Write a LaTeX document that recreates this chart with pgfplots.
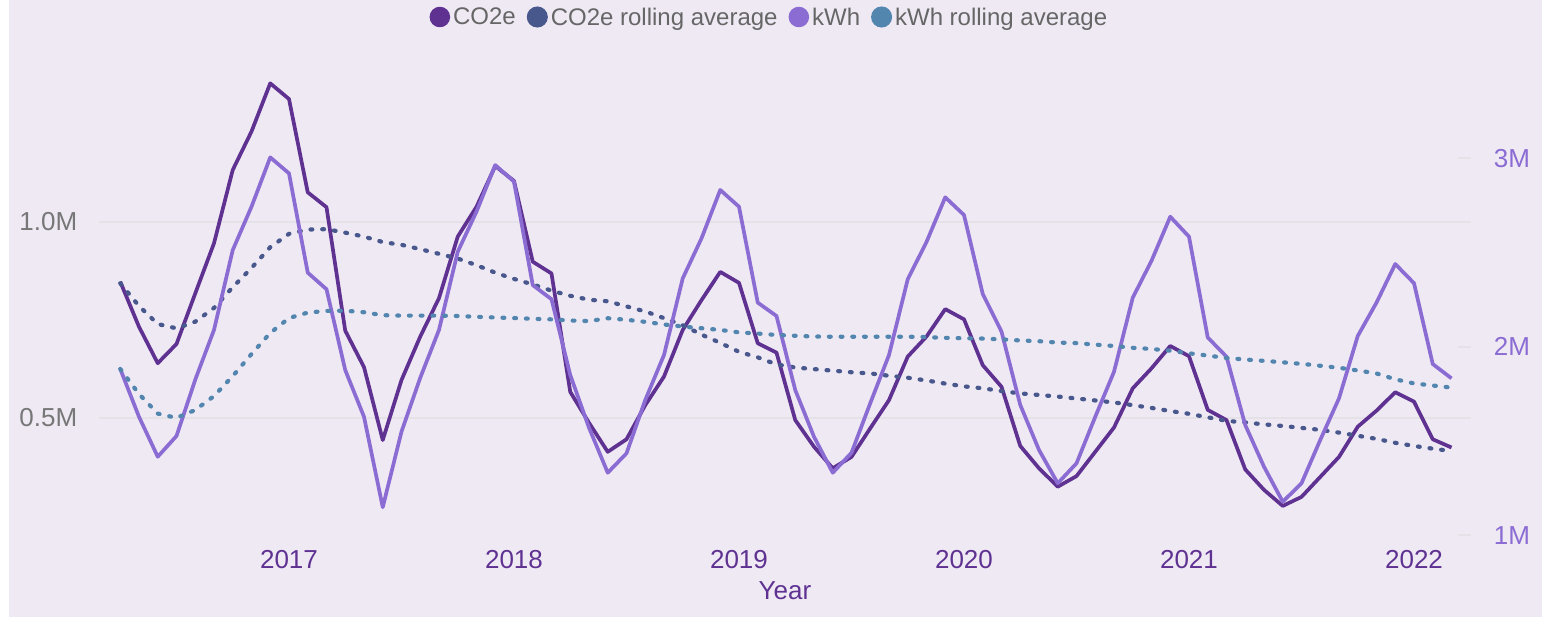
\documentclass[border=0pt]{standalone}
\usepackage{pgfplots}
\usepackage{pgfplotstable}
\pgfplotsset{compat=1.18}
\usepackage{fontspec}
\setmainfont{Liberation Sans}

\definecolor{bg}{HTML}{EFE9F4}
\definecolor{co2}{HTML}{5F3292}
\definecolor{co2roll}{HTML}{48578C}
\definecolor{kwh}{HTML}{8B6CD3}
\definecolor{kwhroll}{HTML}{5286AF}
\definecolor{gridc}{HTML}{E4E2E6}
\definecolor{txtgray}{HTML}{777777}
\definecolor{legtxt}{HTML}{666666}

% month index (0 = Jan 2017), CO2e, CO2e rolling avg (M), kWh, kWh rolling avg (M)
\pgfplotstableread{
m  co2   co2r  kwh   kwhr
-9 0.847 0.843 1.882 1.882
-8 0.732 0.785 1.628 1.749
-7 0.639 0.739 1.416 1.645
-6 0.688 0.728 1.526 1.622
-5 0.817 0.745 1.825 1.664
-4 0.945 0.780 2.089 1.738
-3 1.132 0.833 2.513 1.844
-2 1.230 0.882 2.743 1.961
-1 1.353 0.935 3.005 2.073
0  1.313 0.969 2.920 2.152
1  1.075 0.980 2.393 2.181
2  1.037 0.981 2.305 2.190
3  0.722 0.972 1.876 2.191
4  0.629 0.962 1.628 2.183
5  0.443 0.948 1.148 2.167
6  0.596 0.941 1.549 2.165
7  0.707 0.930 1.835 2.165
8  0.805 0.918 2.089 2.165
9  0.962 0.906 2.504 2.163
10 1.038 0.889 2.717 2.159
11 1.142 0.870 2.964 2.155
12 1.104 0.854 2.876 2.152
13 0.898 0.840 2.327 2.148
14 0.868 0.824 2.252 2.145
15 0.566 0.811 1.850 2.139
16 0.487 0.801 1.570 2.136
17 0.413 0.797 1.331 2.151
18 0.445 0.784 1.434 2.143
19 0.532 0.771 1.717 2.132
20 0.605 0.754 1.956 2.118
21 0.724 0.736 2.363 2.107
22 0.800 0.712 2.575 2.098
23 0.872 0.691 2.832 2.089
24 0.844 0.668 2.743 2.076
25 0.690 0.654 2.234 2.070
26 0.666 0.636 2.163 2.062
27 0.494 0.628 1.770 2.058
28 0.426 0.624 1.522 2.054
29 0.371 0.620 1.331 2.053
30 0.400 0.616 1.437 2.053
31 0.473 0.613 1.700 2.053
32 0.545 0.607 1.956 2.053
33 0.656 0.602 2.358 2.053
34 0.707 0.595 2.556 2.051
35 0.777 0.587 2.793 2.047
36 0.751 0.580 2.699 2.045
37 0.634 0.575 2.280 2.043
38 0.579 0.568 2.080 2.039
39 0.428 0.562 1.691 2.033
40 0.371 0.558 1.452 2.029
41 0.324 0.554 1.275 2.022
42 0.351 0.549 1.381 2.019
43 0.413 0.544 1.628 2.011
44 0.475 0.539 1.867 2.004
45 0.575 0.532 2.260 1.994
46 0.626 0.525 2.456 1.988
47 0.683 0.517 2.690 1.979
48 0.657 0.510 2.584 1.965
49 0.520 0.501 2.049 1.953
50 0.494 0.492 1.947 1.940
51 0.368 0.488 1.584 1.932
52 0.316 0.483 1.363 1.925
53 0.275 0.479 1.177 1.917
54 0.298 0.474 1.275 1.909
55 0.349 0.469 1.505 1.899
56 0.400 0.462 1.726 1.888
57 0.477 0.454 2.057 1.874
58 0.518 0.446 2.234 1.858
59 0.565 0.436 2.439 1.827
60 0.541 0.428 2.337 1.805
61 0.445 0.421 1.908 1.794
62 0.424 0.415 1.832 1.783
}\datatable

\pgfplotsset{
  base/.style={
    at={(49.5pt,35.5pt)}, anchor=south west,
    scale only axis, width=686pt, height=242.5pt,
    xmin=-10.133, xmax=63.04,
    axis line style={draw=none},
  },
  sline/.style={line width=1.85pt, line join=round},
  dline/.style={line width=2.1pt, line cap=round, dash pattern=on 0.9pt off 4.95pt},
}

\begin{document}
\begin{tikzpicture}
\fill[white] (-2pt,-2pt) rectangle (4.5pt,310pt);
\fill[bg] (4.5pt,-2pt) rectangle (775pt,310pt);

\begin{axis}[base,
  ymin=0.1753, ymax=1.4125,
  ytick={0.5,1.0}, yticklabels={0.5M,1.0M},
  ymajorgrids, grid style={gridc, line width=1pt},
  tick style={draw=none},
  yticklabel style={font=\fontsize{13}{13}\selectfont, text=txtgray, anchor=east, inner sep=0pt, xshift=-10.7pt},
  xtick={0,12,24,36,48,60}, xticklabels={2017,2018,2019,2020,2021,2022},
  xticklabel style={font=\fontsize{13}{13}\selectfont, text=co2, anchor=north, inner sep=0pt, yshift=-2.5pt},
  xlabel={Year},
  xlabel style={at={(axis description cs:0.5,0)}, anchor=north, inner sep=0pt, yshift=-17.9pt, font=\fontsize{13}{13}\selectfont, text=co2},
]
\addplot[co2, sline] table[x=m, y=co2] {\datatable};
\addplot[co2roll, dline] table[x=m, y=co2r] {\datatable};
\end{axis}

\begin{axis}[base,
  ymin=0.9475, ymax=3.5218,
  xtick=\empty,
  ytick={1,2,3}, yticklabels={1M,2M,3M},
  ytick pos=right, yticklabel pos=right,
  tick align=inside, major tick length=6.5pt,
  ytick style={draw=gridc, line width=1pt},
  yticklabel style={font=\fontsize{13}{13}\selectfont, text=kwh, anchor=west, inner sep=0pt, xshift=11.2pt},
  legend columns=-1,
  legend style={at={(axis description cs:0.489,1.0866)}, anchor=center, draw=none, fill=none,
    font=\fontsize{12}{12}\selectfont,
    nodes={inner sep=1.5pt, text=legtxt},
    /tikz/every even column/.append style={column sep=4pt}},
  legend image code/.code={\fill[#1,solid] (0.35em,0.05em) circle (0.42em);},
]
\addlegendimage{co2, sline}
\addlegendentry{CO2e}
\addlegendimage{co2roll, dline}
\addlegendentry{CO2e rolling average}
\addplot[kwh, sline] table[x=m, y=kwh] {\datatable};
\addlegendentry{kWh}
\addplot[kwhroll, dline] table[x=m, y=kwhr] {\datatable};
\addlegendentry{kWh rolling average}
\end{axis}

\pgfresetboundingbox
\path (0,0) rectangle (771pt,308pt);
\end{tikzpicture}
\end{document}
